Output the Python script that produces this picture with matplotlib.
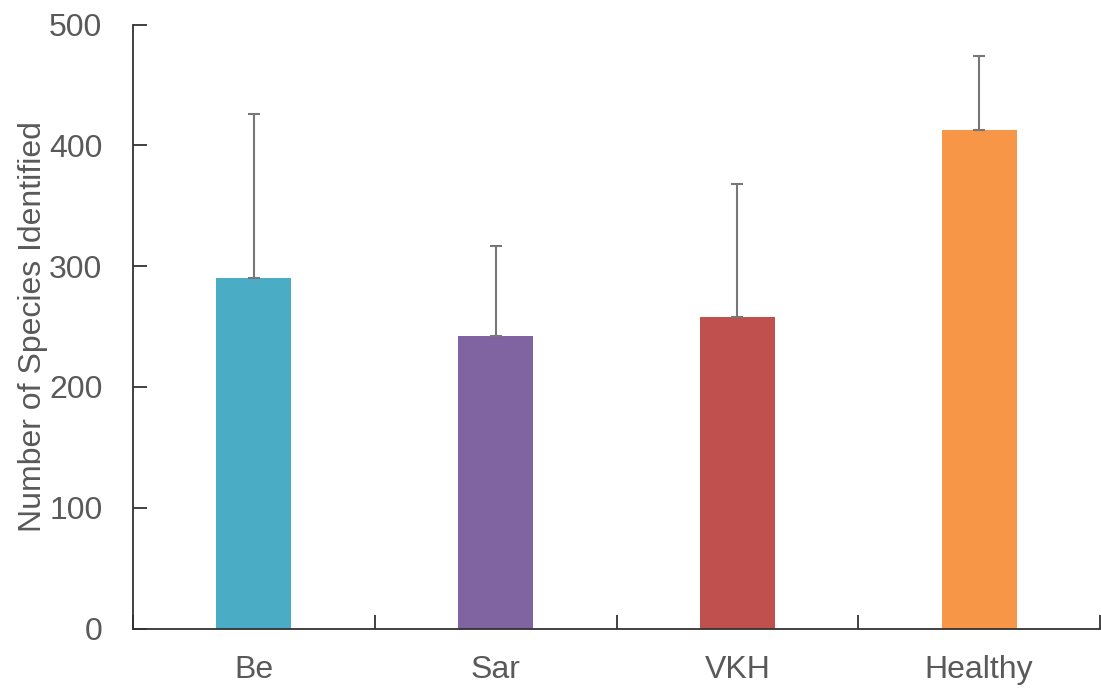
import matplotlib
matplotlib.use("Agg")
import matplotlib.pyplot as plt
import numpy as np

plt.rcParams["font.family"] = ["Liberation Sans", "DejaVu Sans"]

groups = ["Be", "Sar", "VKH", "Healthy"]
species = [290, 242, 258, 413]
species_err = [136, 75, 110, 61]
colors = ["#4BACC6", "#8064A2", "#C0504D", "#F79646"]
yticks = [0, 100, 200, 300, 400, 500]

TEXT = "#595959"

fig = plt.figure(figsize=(11.01, 6.90), dpi=100)
ax = fig.add_axes([0.1208, 0.0891, 0.8783, 0.8751])

x = np.arange(len(groups))
ax.bar(x, species, width=0.31, color=colors, zorder=2)
# upper error bars only
ax.errorbar(x, species, yerr=[np.zeros(len(species)), species_err], fmt="none",
            ecolor="#777777", elinewidth=1.5, capsize=4, capthick=1.5, zorder=3)

ax.set_xlim(-0.5, len(groups) - 0.5)
ax.set_ylim(0, 500)
ax.set_yticks(yticks)
ax.set_xticks(x)
ax.set_xticklabels(groups)
ax.set_xticks(np.arange(len(groups) + 1) - 0.5, minor=True)

for side in ("top", "right"):
    ax.spines[side].set_visible(False)
for side in ("left", "bottom"):
    ax.spines[side].set_color("#333333")
    ax.spines[side].set_linewidth(1.3)

ax.tick_params(axis="y", direction="in", length=10, width=1.3, color="#333333",
               labelsize=23, labelcolor=TEXT, pad=22)
ax.tick_params(axis="x", which="major", length=0, labelsize=23, labelcolor=TEXT, pad=19)
ax.tick_params(axis="x", which="minor", direction="in", length=10, width=1.3, color="#333333")

ax.set_ylabel("Number of Species Identified", fontsize=23, color=TEXT, labelpad=1)

fig.savefig("out.png", dpi=100)
